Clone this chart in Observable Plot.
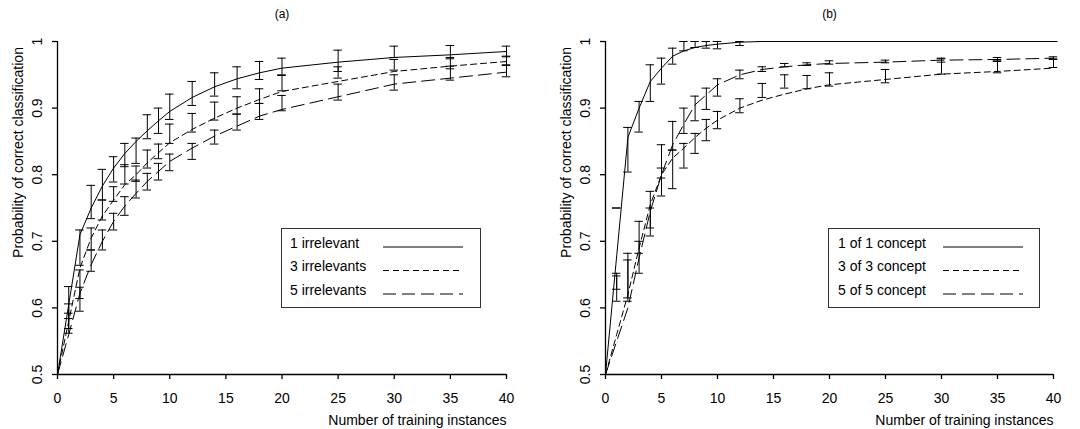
<!DOCTYPE html>
<html>
<head>
<meta charset="utf-8">
<script src="https://cdn.jsdelivr.net/npm/d3@7"></script>
<script src="https://cdn.jsdelivr.net/npm/@observablehq/plot@0.6"></script>
<style>
  body { margin: 0; background: #fff; }
  #wrap { position: relative; width: 1080px; height: 429px; overflow: hidden; font-family: "Liberation Sans", Arial, sans-serif; }
  .panel { position: absolute; top: 0; }
  .legend { position: absolute; font-family: "Liberation Sans", Arial, sans-serif; }
</style>
</head>
<body>
<div id="wrap"></div>
<script>
// ---------- data ----------
const xs = [0, 1, 2, 3, 4, 5, 6, 7, 8, 9, 10, 12, 14, 16, 18, 20, 25, 30, 35, 40];
const barXs = [1, 2, 3, 4, 5, 6, 7, 8, 9, 10, 12, 14, 16, 18, 20, 25, 30, 35, 40];
const xTicks = [0, 5, 10, 15, 20, 25, 30, 35, 40];
const yTicks = [0.5, 0.6, 0.7, 0.8, 0.9, 1];
const yTickLabels = ["0.5", "0.6", "0.7", "0.8", "0.9", "1"];
const xLabel = "Number of training instances";
const yLabel = "Probability of correct classification";
const dashes = [null, "6,4", "13,6"];

// panel (a)
const aTitle = "(a)";
const aNames = ["1 irrelevant", "3 irrelevants", "5 irrelevants"];
const aLine1 = [0.5, 0.605, 0.71, 0.75, 0.783, 0.81, 0.832, 0.85, 0.866, 0.881, 0.895, 0.916, 0.932, 0.944, 0.953, 0.96, 0.969, 0.976, 0.98, 0.985];
const aLine3 = [0.5, 0.58, 0.66, 0.705, 0.738, 0.762, 0.785, 0.8, 0.818, 0.833, 0.848, 0.868, 0.885, 0.9, 0.913, 0.925, 0.94, 0.955, 0.963, 0.97];
const aLine5 = [0.5, 0.56, 0.622, 0.665, 0.7, 0.73, 0.753, 0.772, 0.79, 0.805, 0.82, 0.84, 0.858, 0.873, 0.888, 0.898, 0.917, 0.936, 0.945, 0.954];
const aHi1 = [0.632, 0.717, 0.784, 0.808, 0.827, 0.847, 0.855, 0.89, 0.9, 0.921, 0.94, 0.953, 0.962, 0.97, 0.975, 0.987, 0.993, 0.994, 0.993];
const aLo1 = [0.584, 0.664, 0.734, 0.762, 0.789, 0.812, 0.817, 0.854, 0.862, 0.883, 0.904, 0.918, 0.929, 0.943, 0.95, 0.955, 0.976, 0.974, 0.977];
const aHi3 = [0.606, 0.657, 0.72, 0.762, 0.782, 0.815, 0.813, 0.837, 0.846, 0.876, 0.892, 0.909, 0.917, 0.929, 0.949, 0.962, 0.973, 0.976, 0.978];
const aLo3 = [0.569, 0.614, 0.687, 0.732, 0.76, 0.786, 0.79, 0.81, 0.824, 0.847, 0.864, 0.882, 0.891, 0.907, 0.926, 0.945, 0.957, 0.959, 0.964];
const aHi5 = [0.592, 0.631, 0.687, 0.717, 0.742, 0.767, 0.792, 0.802, 0.817, 0.831, 0.847, 0.867, 0.891, 0.907, 0.919, 0.936, 0.95, 0.963, 0.965];
const aLo5 = [0.562, 0.595, 0.655, 0.687, 0.717, 0.739, 0.765, 0.777, 0.792, 0.806, 0.823, 0.846, 0.867, 0.883, 0.896, 0.912, 0.927, 0.942, 0.947];

// panel (b)
const bTitle = "(b)";
const bNames = ["1 of 1 concept", "3 of 3 concept", "5 of 5 concept"];
const bLine1 = [0.5, 0.678, 0.856, 0.9, 0.94, 0.96, 0.978, 0.986, 0.991, 0.994, 0.996, 0.999, 1, 1, 1, 1, 1, 1, 1, 1];
const bLine3 = [0.5, 0.56, 0.62, 0.69, 0.755, 0.8, 0.825, 0.84, 0.856, 0.87, 0.882, 0.9, 0.912, 0.921, 0.929, 0.935, 0.943, 0.951, 0.955, 0.96];
const bLine5 = [0.5, 0.55, 0.6, 0.675, 0.745, 0.8, 0.845, 0.876, 0.905, 0.92, 0.935, 0.95, 0.958, 0.962, 0.965, 0.967, 0.969, 0.972, 0.973, 0.975];
const bHi1 = [0.75, 0.871, 0.91, 0.965, 0.975, 0.99, 1, 1, 1, 1, 1, 1, 1, 1, 1, 1, 1, 1, 1];
const bLo1 = [0.75, 0.804, 0.864, 0.91, 0.936, 0.966, 0.986, 0.991, 0.99, 0.989, 0.994, 1, 1, 1, 1, 1, 1, 1, 1];
const bHi3 = [0.652, 0.682, 0.73, 0.775, 0.81, 0.837, 0.847, 0.862, 0.883, 0.895, 0.914, 0.937, 0.95, 0.949, 0.953, 0.958, 0.974, 0.972, 0.974];
const bLo3 = [0.61, 0.615, 0.682, 0.72, 0.768, 0.779, 0.81, 0.832, 0.851, 0.869, 0.893, 0.916, 0.93, 0.929, 0.933, 0.938, 0.951, 0.953, 0.961];
const bHi5 = [0.648, 0.672, 0.7, 0.75, 0.845, 0.88, 0.9, 0.918, 0.93, 0.944, 0.957, 0.962, 0.967, 0.968, 0.971, 0.972, 0.975, 0.976, 0.977];
const bLo5 = [0.628, 0.61, 0.652, 0.708, 0.795, 0.837, 0.862, 0.881, 0.898, 0.918, 0.944, 0.955, 0.962, 0.964, 0.966, 0.968, 0.969, 0.97, 0.973];

// ---------- drawing ----------
const FONT = '"Liberation Sans", Arial, sans-serif';
const CAP = 0.38;
const wrap = document.getElementById("wrap");

function makePanel({title, names, lines, his, los, left, mL, mR, legend}) {
  const rows = [], bars = [];
  names.forEach((n, i) => {
    xs.forEach((x, j) => rows.push({series: n, x, y: lines[i][j]}));
    barXs.forEach((x, j) => bars.push({series: n, x, hi: his[i][j], lo: los[i][j]}));
  });
  const plot = Plot.plot({
    width: 540, height: 429,
    marginLeft: mL, marginRight: mR, marginTop: 41, marginBottom: 55,
    x: {domain: [0, 40]},
    y: {domain: [0.5, 1]},
    style: {fontFamily: FONT, fontSize: "14px", color: "#000", background: "transparent", overflow: "visible"},
    marks: [
      Plot.ruleX([0], {stroke: "#000", strokeWidth: 1.3}),
      Plot.ruleY([0.5], {stroke: "#000", strokeWidth: 1.3}),
      Plot.axisX({ticks: xTicks, tickSize: 5, fill: "none", stroke: "#000", strokeWidth: 1.3, label: null}),
      Plot.axisY({ticks: yTicks, tickSize: 5, fill: "none", stroke: "#000", strokeWidth: 1.3, label: null}),
      Plot.text(xTicks, {x: d => d, frameAnchor: "bottom", dy: 24, text: d => String(d), fontSize: 14, lineAnchor: "middle"}),
      Plot.text(yTicks, {y: d => d, frameAnchor: "left", dx: -20, rotate: -90, textAnchor: "middle", lineAnchor: "middle",
                         text: (d, i) => yTickLabels[i], fontSize: 14}),
      ...names.map((n, i) => Plot.line(rows.filter(r => r.series === n),
        {x: "x", y: "y", stroke: "#000", strokeWidth: 1, strokeDasharray: dashes[i]})),
      Plot.ruleX(bars, {x: "x", y1: "lo", y2: "hi", stroke: "#000", strokeWidth: 1}),
      Plot.ruleY(bars, {y: "hi", x1: d => d.x - CAP, x2: d => d.x + CAP, stroke: "#000", strokeWidth: 1}),
      Plot.ruleY(bars, {y: "lo", x1: d => d.x - CAP, x2: d => d.x + CAP, stroke: "#000", strokeWidth: 1}),
      Plot.text([title], {frameAnchor: "top", dy: -27, fontSize: 12, lineAnchor: "middle"}),
      Plot.text([yLabel], {frameAnchor: "top-left", dx: -39, dy: 111, rotate: -90, textAnchor: "middle", lineAnchor: "middle", fontSize: 14}),
      Plot.text([xLabel], {frameAnchor: "bottom-right", dy: 46, textAnchor: "end", lineAnchor: "middle", fontSize: 14})
    ]
  });
  const div = document.createElement("div");
  div.className = "panel";
  div.style.left = left + "px";
  div.appendChild(plot);
  wrap.appendChild(div);

  // legend box
  const L = legend;
  const svg = d3.select(wrap).append("svg").attr("class", "legend")
    .style("left", L.left + "px").style("top", L.top + "px")
    .attr("width", L.width).attr("height", L.height);
  svg.append("rect").attr("x", 0.5).attr("y", 0.5)
    .attr("width", L.width - 1).attr("height", L.height - 1)
    .attr("fill", "#fff").attr("stroke", "#333").attr("stroke-width", 1);
  names.forEach((n, i) => {
    svg.append("text").attr("x", L.textX).attr("y", 15 + 23.5 * i).attr("dy", "0.35em")
      .attr("font-size", 14).attr("fill", "#000").text(n);
    svg.append("line").attr("x1", L.lineX1).attr("x2", L.lineX2)
      .attr("y1", 19 + 23.5 * i).attr("y2", 19 + 23.5 * i)
      .attr("stroke", "#000").attr("stroke-width", 1)
      .attr("stroke-dasharray", dashes[i]);
  });
}

makePanel({
  title: aTitle, names: aNames,
  lines: [aLine1, aLine3, aLine5], his: [aHi1, aHi3, aHi5], los: [aLo1, aLo3, aLo5],
  left: 0, mL: 57, mR: 34,
  legend: {left: 281, top: 228, width: 200, height: 80, textX: 9, lineX1: 102, lineX2: 182}
});
makePanel({
  title: bTitle, names: bNames,
  lines: [bLine1, bLine3, bLine5], his: [bHi1, bHi3, bHi5], los: [bLo1, bLo3, bLo5],
  left: 540, mL: 65, mR: 27,
  legend: {left: 828, top: 228, width: 212, height: 80, textX: 10, lineX1: 115, lineX2: 195}
});
</script>
</body>
</html>
